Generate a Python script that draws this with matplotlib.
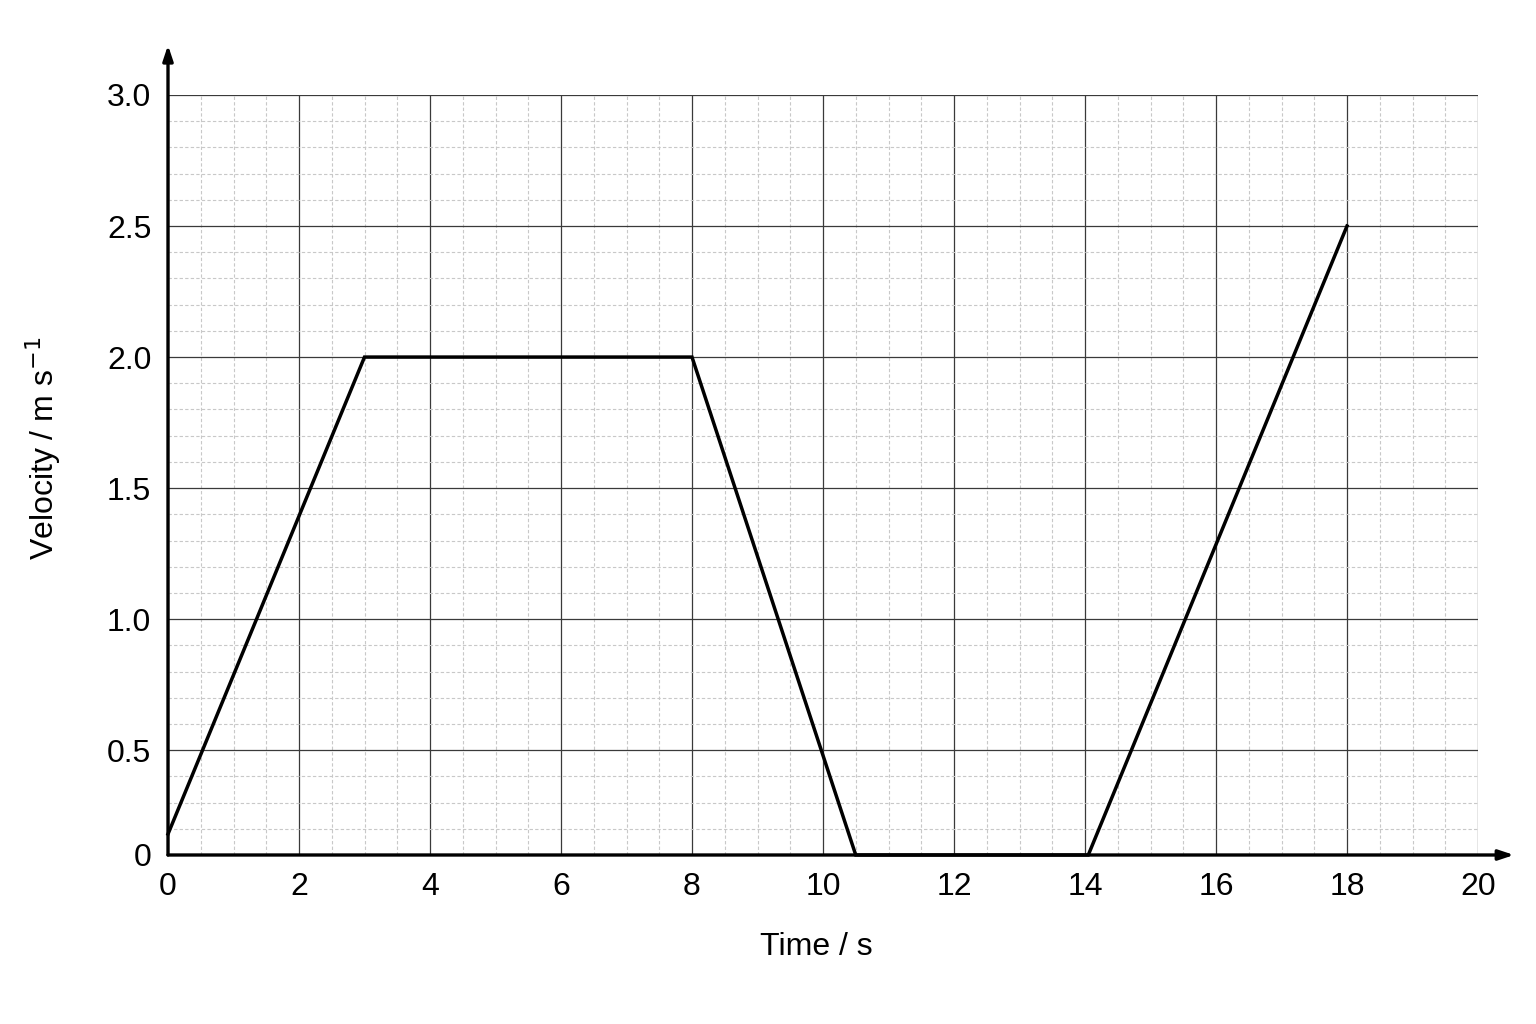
import matplotlib
matplotlib.use("Agg")
import matplotlib.pyplot as plt
import numpy as np

plt.rcParams['font.family'] = ['Liberation Sans', 'DejaVu Sans']

# Data
time_s = [0, 3, 8, 10.5, 14.05, 18]
velocity = [0.1, 2.0, 2.0, 0.0, 0.0, 2.5]

x_ticks = [0, 2, 4, 6, 8, 10, 12, 14, 16, 18, 20]
x_tick_labels = ["0", "2", "4", "6", "8", "10", "12", "14", "16", "18", "20"]
y_ticks = [0, 0.5, 1.0, 1.5, 2.0, 2.5, 3.0]
y_tick_labels = ["0", "0.5", "1.0", "1.5", "2.0", "2.5", "3.0"]


# the reference's lowest band (0 to 0.5) is drawn slightly compressed
def fwd(v):
    v = np.asarray(v, dtype=float)
    return np.where(v < 0.5, 0.1 + v * 0.8, v)


def inv(u):
    u = np.asarray(u, dtype=float)
    return np.where(u < 0.5, (u - 0.1) / 0.8, u)


fig = plt.figure(figsize=(15.36, 10.24), dpi=100)
ax = fig.add_axes([168/1536, 1 - 855/1024, (1478-168)/1536, (855-95)/1024])
ax.set_yscale('function', functions=(fwd, inv))
ax.set_xlim(0, 20)
ax.set_ylim(0, 3.0)

minor_y = list(np.arange(0, 0.5, 0.125)) + list(np.arange(0.5, 3.001, 0.1))
ax.set_xticks(np.arange(0, 20.01, 0.5), minor=True)
ax.set_yticks(minor_y, minor=True)
ax.set_xticks(x_ticks)
ax.set_xticklabels(x_tick_labels)
ax.set_yticks(y_ticks)
ax.set_yticklabels(y_tick_labels)
ax.grid(which='minor', color='#c8c8c8', linestyle=(0, (3, 2)), linewidth=0.8)
ax.grid(which='major', color='#3a3a3a', linestyle='-', linewidth=0.9)
ax.set_axisbelow(True)
ax.tick_params(which='both', length=0)
ax.tick_params(axis='x', pad=12, labelsize=23)
ax.tick_params(axis='y', pad=12, labelsize=23)

for s in ['top', 'right', 'left', 'bottom']:
    ax.spines[s].set_visible(False)

# axis arrows
ax.annotate('', xy=(20.55, 0), xytext=(0, 0), xycoords='data',
            arrowprops=dict(arrowstyle='-|>,head_length=0.9,head_width=0.3', color='black', lw=2.4,
                            shrinkA=0, shrinkB=0), annotation_clip=False)
ax.annotate('', xy=(0, 3.19), xytext=(0, 0), xycoords='data',
            arrowprops=dict(arrowstyle='-|>,head_length=0.9,head_width=0.3', color='black', lw=2.4,
                            shrinkA=0, shrinkB=0), annotation_clip=False)

ax.plot(time_s, velocity, color='black', linewidth=2.5, solid_joinstyle='miter', zorder=5, clip_on=False)

ax.set_xlabel('Time / s', fontsize=23, labelpad=22)
ax.set_ylabel('Velocity / m s$^{-1}$', fontsize=23, labelpad=32)
ax.xaxis.label.set_x(0.495)
ax.yaxis.label.set_y(0.535)

fig.savefig('out.png', dpi=100, facecolor='white')
